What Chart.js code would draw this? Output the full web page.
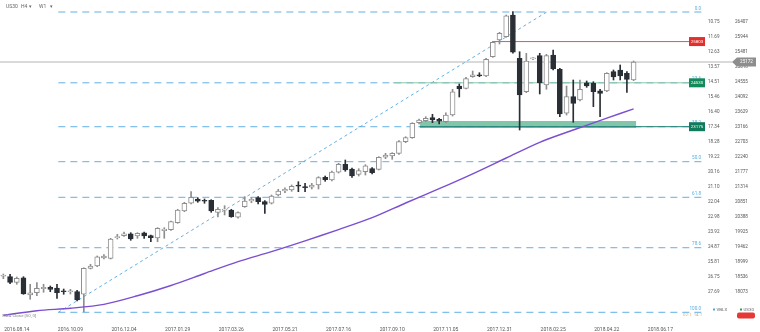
<!DOCTYPE html>
<html><head><meta charset="utf-8">
<script src="https://cdn.jsdelivr.net/npm/chart.js@4.4.1/dist/chart.umd.min.js"></script>
<style>html,body{margin:0;padding:0;background:#fff}canvas{display:block}</style>
</head><body>
<canvas id="c" width="760" height="332"></canvas>
<script>
// ---- categories (weekly candles) ----
const weekCount = 105;
const tickLabels = ['2016.08.14','2016.10.09','2016.12.04','2017.01.29','2017.03.26','2017.05.21','2017.07.16','2017.09.10','2017.11.05','2017.12.31','2018.02.25','2018.04.22','2018.06.17'];
const cats = [];
for (let i = 0; i < weekCount; i++) {
  const d = new Date(Date.UTC(2016, 6, 31) + i * 7 * 864e5);
  cats.push(d.getUTCFullYear() + '.' + String(d.getUTCMonth() + 1).padStart(2, '0') + '.' + String(d.getUTCDate()).padStart(2, '0'));
}

// ---- OHLC ----
const open  = [18560,18545,18372,18514,17980,18051,18175,18218,18196,18085,18080,18082,18002,18804,18875,19122,19113,19749,19811,19872,19801,19903,19811,19740,19965,19996,20212,20573,20811,20944,20891,20903,20533,20595,20604,20379,20706,20882,20984,20860,20811,21067,21190,21221,21345,21323,21305,21376,21613,21530,21768,22015,21870,21706,21786,21879,21860,22231,22271,22354,22712,22836,23299,23360,23453,23404,23329,23536,24431,24360,24718,24780,24740,25336,25851,25953,26623,25286,24255,25271,25367,24462,25388,24947,23589,24101,23999,24533,24515,24286,24277,24873,24925,24823,24617];
const high  = [18628,18619,18536,18545,18311,18360,18311,18258,18311,18165,18156,18125,18820,18928,19184,19224,19730,19854,19925,19903,19903,19925,19832,20058,20058,20264,20626,20842,21169,20984,20944,20922,20675,20737,20626,20551,21015,20984,21015,20891,21067,21243,21292,21376,21478,21428,21428,21632,21653,21808,22045,22147,21900,21879,22002,21910,22249,22354,22373,22743,22866,23299,23413,23484,23558,23434,23607,24330,24493,24700,24894,24842,25286,25799,26089,26623,26731,25490,25441,25305,25441,25410,25543,24978,24431,24617,24617,24586,24564,24330,24842,24925,25080,24873,25203];
const low   = [18483,18329,18311,18002,17848,17959,18064,18082,17878,18002,18011,17795,17465,18783,18854,19091,19091,19709,19792,19669,19730,19730,19625,19625,19730,19977,20193,20551,20789,20842,20811,20533,20388,20450,20379,20348,20687,20829,20789,20502,20789,21036,21138,21181,21169,21169,21252,21252,21490,21499,21746,21799,21613,21653,21684,21715,21839,22187,22169,22323,22681,22817,23258,23329,23299,23258,23299,23505,24092,24339,24700,24718,24718,25317,25728,25935,25441,23073,24225,25243,24185,24330,24925,23484,23536,23311,23968,24391,23793,23484,24255,24617,24617,24237,24595];
const close = [18570,18372,18496,18011,18051,18187,18218,18156,18051,18080,18085,17826,18804,18875,19162,19184,19709,19780,19872,19709,19885,19801,19749,20039,20017,20243,20604,20811,20996,20873,20873,20573,20626,20635,20397,20521,20882,20934,20860,20780,21036,21190,21243,21336,21340,21292,21376,21601,21539,21777,22015,21839,21653,21817,21971,21755,22231,22302,22354,22712,22836,23280,23382,23434,23382,23342,23536,24255,24339,24657,24780,24740,25256,25780,26058,26601,25472,24154,25203,25286,24533,25367,24956,23567,24101,23897,24330,24431,24255,24206,24823,24709,24740,24638,25172];

// ---- moving average (read every 5 weeks) ----
const smaWeeks  = [0,5,10,15,20,25,30,35,40,45,50,55,60,65,70,75,80,85,90,94];
const smaValues = [17354,17496,17570,17690,17956,18274,18644,19011,19320,19653,19999,20366,20820,21261,21721,22209,22694,23073,23438,23728];

// ---- axis tick labels ----
const priceTicks = [26407,25944,25481,25018,24555,24092,23629,23166,22703,22240,21777,21314,20851,20388,19925,19462,18999,18536,18073];
const pctTicks   = ['10.75','11.69','12.63','13.57','14.51','15.46','16.40','17.34','18.28','19.22','20.16','21.10','22.04','22.98','23.92','24.87','25.81','26.75','27.69'];

// ---- fibonacci & levels ----
const fibNames  = ['0.0','23.6','38.2','50.0','61.8','78.6','100.0'];
const fibLevels = [26716,24530,23175,22095,20996,19440,17446];
const fibStartWeek = 8.2;
const diagonalWeeks = [8.2, 81.05];
const redLevel = 25803, greenLevel = 24530, tealLevel = 23175, currentPrice = 25172;
const zoneRange = [23135, 23351];
const zoneWeeks = [62.1, 94.4];

const yMin = 17332, yMax = 27086;
const xMin = -0.5, xMax = weekCount - 0.5;

const UP_FILL = '#ffffff', UP_LINE = '#8e8e8e', DN = '#2a2f35';
const isUp = open.map((o, i) => close[i] >= o);
const tickWeeks = tickLabels.map(l => cats.indexOf(l));

const hLine = (y, x0, x1, color, dash, extra) => Object.assign({
  type: 'line', data: [{x: x0, y: y}, {x: x1, y: y}],
  borderColor: color, borderWidth: 1, borderDash: dash || [], pointRadius: 0, order: 5, fill: false
}, extra || {});

const datasets = [
  { type: 'bar', data: open.map((o, i) => ({x: i, y: [Math.min(o, close[i]), Math.max(o, close[i])]})),
    backgroundColor: isUp.map(u => u ? UP_FILL : DN), borderColor: isUp.map(u => u ? UP_LINE : DN),
    borderWidth: 1, borderSkipped: false, barThickness: 5, minBarLength: 1, grouped: false, order: 1 },
  { type: 'bar', data: low.map((l, i) => ({x: i, y: [l, high[i]]})),
    backgroundColor: isUp.map(u => u ? UP_LINE : DN), borderWidth: 0,
    barThickness: 1, grouped: false, order: 2 },
  { type: 'line', data: smaWeeks.map((w, k) => ({x: w, y: smaValues[k]})), borderColor: '#7b4fd0', borderWidth: 1.4,
    pointRadius: 0, tension: 0.3, order: 0, fill: false },
  // zone
  { type: 'line', data: [{x: zoneWeeks[0], y: zoneRange[1]}, {x: zoneWeeks[1], y: zoneRange[1]}],
    borderWidth: 0, pointRadius: 0, fill: '+1', backgroundColor: 'rgba(45,160,115,0.6)', order: 6 },
  { type: 'line', data: [{x: zoneWeeks[0], y: zoneRange[0]}, {x: zoneWeeks[1], y: zoneRange[0]}],
    borderWidth: 0, pointRadius: 0, fill: false, order: 6 },
];
fibLevels.forEach(l => datasets.push(hLine(l, fibStartWeek, xMax, 'rgba(92,172,226,0.95)', [7, 5])));
datasets.push({ type: 'line', data: [{x: diagonalWeeks[0], y: fibLevels[6]}, {x: diagonalWeeks[1], y: fibLevels[0]}],
  borderColor: 'rgba(92,172,226,0.95)', borderWidth: 1, borderDash: [3, 3], pointRadius: 0, order: 5, fill: false });
datasets.push(hLine(redLevel, 72.9, 102.3, '#e35656', [], { order: 4 }));
datasets.push(hLine(greenLevel, 58.1, 102.3, '#8cc6a6', [], { order: 4 }));
datasets.push(hLine(tealLevel, 62.1, 102.3, '#1d7f6c', [], { order: 4 }));
datasets.push(hLine(currentPrice, xMin, 108.7, '#b4b4b4', [], { clip: false, order: 7 }));

const overlay = {
  id: 'overlay',
  afterDraw(chart) {
    const ctx = chart.ctx, y = chart.scales.y, ca = chart.chartArea;
    const F = (s) => s + 'px Roboto, "DejaVu Sans", sans-serif';
    ctx.save();
    ctx.textBaseline = 'middle';
    // fib labels
    ctx.font = F(4.6); ctx.fillStyle = '#5aaee0'; ctx.textAlign = 'right';
    fibLevels.forEach((l, k) => ctx.fillText(fibNames[k], ca.right - 3, y.getPixelForValue(l) - 3.5));
    // level boxes
    const box = (val, txt, col) => {
      const py = y.getPixelForValue(val);
      ctx.fillStyle = col; ctx.fillRect(ca.right - 15, py - 4.5, 16, 9);
      ctx.fillStyle = '#fff'; ctx.textAlign = 'center'; ctx.font = F(4.4);
      ctx.fillText(txt, ca.right - 7, py + 0.3);
    };
    box(redLevel, String(redLevel), '#e0302e');
    box(greenLevel, String(greenLevel), '#138a5a');
    box(tealLevel, String(tealLevel), '#107a5c');
    // current price tag
    const cy = y.getPixelForValue(currentPrice);
    ctx.fillStyle = '#8d8d8d';
    ctx.beginPath(); ctx.moveTo(732, cy); ctx.lineTo(737, cy - 4.5); ctx.lineTo(756, cy - 4.5);
    ctx.lineTo(756, cy + 4.5); ctx.lineTo(737, cy + 4.5); ctx.closePath(); ctx.fill();
    ctx.fillStyle = '#fff'; ctx.font = F(4.6); ctx.textAlign = 'center';
    ctx.fillText(String(currentPrice), 746.5, cy + 0.3);
    // header
    ctx.fillStyle = '#666'; ctx.textAlign = 'left'; ctx.font = F(5);
    ctx.fillText('US30', 6, 7); ctx.fillText('H4', 21, 7); ctx.fillText('▾', 29, 7);
    ctx.fillText('W1', 39, 7); ctx.fillText('▾', 50, 7);
    // indicator caption
    ctx.fillStyle = '#8a8a8a'; ctx.font = F(4.4);
    ctx.fillText('SMA Close [50, 0]', 2, 316);
    ctx.fillStyle = '#f0a848'; ctx.fillText('02:1  14:1', 683, 315);
    // legend
    ctx.fillStyle = '#4aa8e8'; ctx.fillRect(713, 308.5, 2, 2);
    ctx.fillStyle = '#2a9d5c'; ctx.fillRect(740, 308.5, 2, 2);
    ctx.fillStyle = '#666'; ctx.font = F(4.4);
    ctx.fillText('VBLX', 716.5, 309.5); ctx.fillText('US30', 743.5, 309.5);
    ctx.fillStyle = '#e53935';
    ctx.beginPath(); ctx.roundRect(737, 312.5, 18, 6, 2); ctx.fill();
    ctx.restore();
  }
};

const noPad = s => { s.paddingTop = 0; s.paddingBottom = 0; s.paddingLeft = 0; s.paddingRight = 0; };

new Chart(document.getElementById('c'), {
  type: 'bar',
  data: { datasets },
  options: {
    responsive: false, animation: false, devicePixelRatio: 1,
    layout: { padding: 0 },
    plugins: { legend: { display: false }, tooltip: { enabled: false } },
    scales: {
      x: { type: 'linear', min: xMin, max: xMax, offset: false, grid: { display: false, offset: false }, border: { display: false },
        afterBuildTicks: s => { s.ticks = tickWeeks.map(v => ({ value: v })); },
        ticks: { autoSkip: false, maxRotation: 0, minRotation: 0, padding: 3, color: '#555',
          font: { size: 5, family: 'Roboto' }, callback: v => cats[v] },
        afterFit: s => { s.height = 16; noPad(s); } },
      y: { position: 'right', weight: 1, min: yMin, max: yMax,
        grid: { display: false, drawTicks: false }, border: { display: false },
        afterBuildTicks: s => { s.ticks = priceTicks.map(v => ({ value: v })); },
        ticks: { padding: 3, color: '#555', font: { size: 4.6, family: 'Roboto' }, callback: v => String(v) },
        afterFit: s => { s.width = 28; noPad(s); } },
      y2: { position: 'right', weight: 0, min: yMin, max: yMax,
        grid: { display: false, drawTicks: false }, border: { display: false },
        afterBuildTicks: s => { s.ticks = priceTicks.map(v => ({ value: v })); },
        ticks: { padding: 4, color: '#555', font: { size: 4.6, family: 'Roboto' },
          callback: v => pctTicks[priceTicks.indexOf(v)] },
        afterFit: s => { s.width = 28; noPad(s); } }
    }
  },
  plugins: [overlay]
});
</script>
</body></html>
